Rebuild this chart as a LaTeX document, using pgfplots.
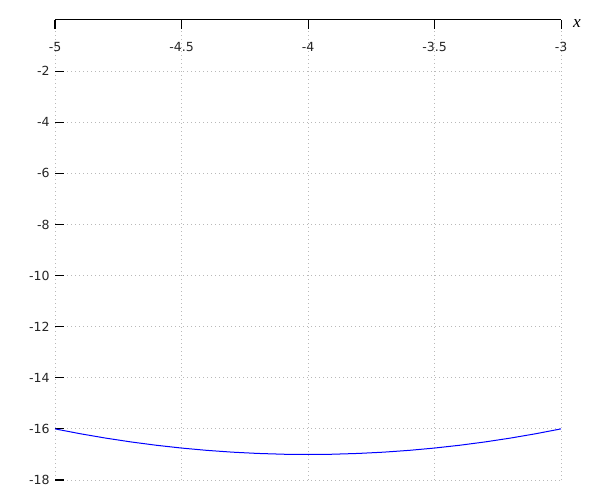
\documentclass[border=0pt]{standalone}
\usepackage{fontspec}
\setmainfont{DejaVu Sans}
\newfontfamily\serifit{Liberation Serif}
\usepackage{pgfplots}
\pgfplotsset{compat=1.18}
\begin{document}
\begin{tikzpicture}[x=0.75pt,y=0.75pt]
\useasboundingbox (-55,-20) rectangle (545,480);
\begin{axis}[
  at={(0,0)}, anchor=south west,
  scale only axis,
  width=379.5pt, height=345pt,
  xmin=-5, xmax=-3, ymin=-18, ymax=0,
  axis x line*=top,
  axis y line*=left,
  y axis line style={draw=none},
  x axis line style={black, line width=0.75pt, -},
  xtick={-5,-4.5,-4,-3.5,-3},
  ytick={-18,-16,-14,-12,-10,-8,-6,-4,-2},
  tick align=inside,
  major tick length=6.75pt,
  tick style={black, line width=0.75pt},
  grid=major,
  major grid style={gray!55, line width=0.6pt, dash pattern=on 0.75pt off 2.25pt},
  /pgf/number format/assume math mode=true,
  ticklabel style={font=\fontsize{9.4}{11}\selectfont, text=black!85},
  xticklabel style={anchor=north, yshift=-13pt},
  yticklabel style={anchor=east, xshift=-0.5pt},
  xlabel={\serifit\itshape x},
  xlabel style={at={(rel axis cs:1,1)}, anchor=west, xshift=5.5pt, yshift=-3pt, font=\fontsize{13}{14}\selectfont},
  clip=false,
]
\addplot[blue, line width=0.75pt] coordinates {
(-5.0,-16.00) (-4.9,-16.19) (-4.8,-16.36) (-4.7,-16.51) (-4.6,-16.64)
(-4.5,-16.75) (-4.4,-16.84) (-4.3,-16.91) (-4.2,-16.96) (-4.07,-17.00)
(-3.93,-17.00) (-3.8,-16.96) (-3.7,-16.91) (-3.6,-16.84) (-3.5,-16.75)
(-3.4,-16.64) (-3.3,-16.51) (-3.2,-16.36) (-3.1,-16.19) (-3.0,-16.00)
};
\end{axis}
\end{tikzpicture}
\end{document}
